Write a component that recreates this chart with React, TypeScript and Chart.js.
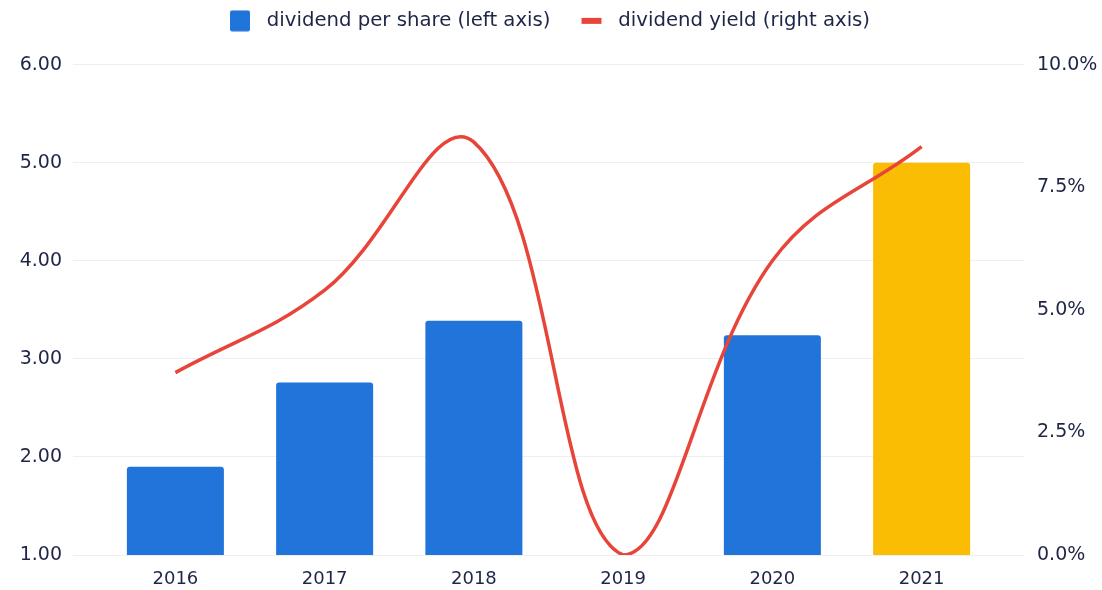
import React, { useEffect, useRef } from "react";
import { Chart, registerables } from "chart.js";

Chart.register(...registerables);

const categories = ["2016", "2017", "2018", "2019", "2020", "2021"];
const dividendPerShare: (number | null)[] = [1.9, 2.76, 3.39, null, 3.24, 5.0];
const dividendYield = [3.72, 5.4, 8.42, 0, 6.0, 8.33];
const leftTicks = [1, 2, 3, 4, 5, 6];
const rightTicks = [0, 2.5, 5, 7.5, 10];
const seriesNames = ["dividend per share (left axis)", "dividend yield (right axis)"];

const BLUE = "#2174d9";
const YELLOW = "#fbbc04";
const RED = "#e8453a";
const TEXT = "#1f2546";
const GRID = "#efefef";
const FONT = "'DejaVu Sans', Verdana, sans-serif";

function makeSymbol(kind: "box" | "line"): HTMLCanvasElement {
  const c = document.createElement("canvas");
  c.width = 47;
  c.height = 22;
  const ctx = c.getContext("2d")!;
  if (kind === "box") {
    ctx.fillStyle = BLUE;
    ctx.beginPath();
    (ctx as any).roundRect(20, 0.5, 20, 21, 2);
    ctx.fill();
  } else {
    ctx.fillStyle = RED;
    ctx.fillRect(20, 8, 20, 6);
  }
  return c;
}

export default function App() {
  const ref = useRef<HTMLCanvasElement | null>(null);

  useEffect(() => {
    if (!ref.current) return;
    const boxSym = makeSymbol("box");
    const lineSym = makeSymbol("line");
    const n = categories.length;

    const legendSpacer = {
      id: "legendSpacer",
      beforeInit(chart: any) {
        const legend = chart.legend;
        if (!legend) return;
        const orig = legend.fit;
        legend.fit = function () {
          orig.call(legend);
          legend.height += 24;
        };
      },
      afterLayout(chart: any) {
        if (chart.legend) chart.legend.right -= 22;
      },
    };

    const chart = new Chart(ref.current, {
      type: "bar",
      data: {
        datasets: [
          {
            type: "bar",
            label: seriesNames[0],
            data: dividendPerShare.map((v, i) => ({ x: i, y: v })) as any,
            backgroundColor: categories.map((_, i) => (i === n - 1 ? YELLOW : BLUE)),
            borderRadius: 3,
            barPercentage: 0.65,
            categoryPercentage: 1,
            yAxisID: "y",
            order: 1,
          },
          {
            type: "line",
            label: seriesNames[1],
            data: dividendYield.map((v, i) => ({ x: i, y: v })) as any,
            borderColor: RED,
            backgroundColor: RED,
            borderWidth: 3.5,
            pointRadius: 0,
            tension: 0.4,
            yAxisID: "y1",
            order: 0,
          },
        ],
      },
      options: {
        animation: false,
        responsive: true,
        maintainAspectRatio: false,
        layout: { padding: 0 },
        plugins: {
          tooltip: { enabled: false },
          legend: {
            display: true,
            position: "top",
            labels: {
              usePointStyle: true,
              pointStyleWidth: 47,
              padding: 11,
              color: TEXT,
              font: { family: FONT, size: 19.7 },
              generateLabels: () => [
                {
                  text: seriesNames[0],
                  fillStyle: BLUE,
                  strokeStyle: BLUE,
                  lineWidth: 0,
                  pointStyle: boxSym as any,
                  hidden: false,
                  datasetIndex: 0,
                  fontColor: TEXT,
                },
                {
                  text: seriesNames[1],
                  fillStyle: RED,
                  strokeStyle: RED,
                  lineWidth: 0,
                  pointStyle: lineSym as any,
                  hidden: false,
                  datasetIndex: 1,
                  fontColor: TEXT,
                },
              ],
            },
          },
        },
        scales: {
          x: {
            type: "linear",
            offset: false,
            min: -0.686,
            max: n - 1 + 0.686,
            grid: { display: false, drawTicks: false },
            border: { display: false },
            afterBuildTicks: (axis: any) => {
              axis.ticks = categories.map((_, i) => ({ value: i }));
            },
            afterFit: (axis: any) => {
              axis.height = 35;
            },
            ticks: {
              padding: 14,
              color: TEXT,
              font: { family: FONT, size: 18 },
              autoSkip: false,
              maxRotation: 0,
              callback: (v: any) => categories[Math.round(Number(v))] ?? "",
            },
          },
          y: {
            type: "linear",
            position: "left",
            min: leftTicks[0],
            max: leftTicks[leftTicks.length - 1],
            grid: { color: GRID, lineWidth: 1, drawTicks: false },
            border: { display: false },
            afterBuildTicks: (axis: any) => {
              axis.ticks = leftTicks.map((v) => ({ value: v }));
            },
            afterFit: (axis: any) => {
              axis.width = 73;
            },
            ticks: {
              padding: 11,
              color: TEXT,
              font: { family: FONT, size: 19 },
              callback: (v: any) => Number(v).toFixed(2),
            },
          },
          y1: {
            type: "linear",
            position: "right",
            min: rightTicks[0],
            max: rightTicks[rightTicks.length - 1],
            grid: { display: false, drawTicks: false },
            border: { display: false },
            afterBuildTicks: (axis: any) => {
              axis.ticks = rightTicks.map((v) => ({ value: v }));
            },
            afterFit: (axis: any) => {
              axis.width = 78;
            },
            ticks: {
              padding: 13,
              color: TEXT,
              font: { family: FONT, size: 19 },
              callback: (v: any) => Number(v).toFixed(1) + "%",
            },
          },
        },
      },
      plugins: [legendSpacer],
    } as any);

    return () => chart.destroy();
  }, []);

  return (
    <div style={{ position: "fixed", left: 0, top: 0, width: 1102, height: 590, background: "#fff" }}>
      <canvas ref={ref} />
    </div>
  );
}
